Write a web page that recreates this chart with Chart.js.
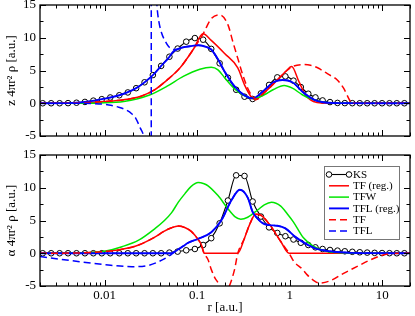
<!DOCTYPE html>
<html><head><meta charset="utf-8">
<script src="https://cdn.jsdelivr.net/npm/chart.js@4.4.1/dist/chart.umd.min.js"></script>
<style>
html,body{margin:0;padding:0;background:#fff;}
#wrap{position:relative;width:415px;height:316px;overflow:hidden;}
#c1{position:absolute;left:0;top:0;}
#c2{position:absolute;left:0;top:150px;}
</style></head><body>
<div id="wrap"><canvas id="c1" width="415" height="150"></canvas><canvas id="c2" width="415" height="166"></canvas></div>
<script>
// ---------- axis ticks ----------
const xTickValues = [0.01, 0.1, 1, 10];
const xTickLabels = ['0.01', '0.1', '1', '10'];
const yTickValues = [-5, 0, 5, 10, 15];
const yTickLabels = ['-5', '0', '5', '10', '15'];
const seriesNames = ['KS', 'TF (reg.)', 'TFW', 'TFL (reg.)', 'TF', 'TFL'];

// ---------- KS (markers) ----------
const ksR = [0.00214,0.00264,0.00326,0.00402,0.00496,0.00612,0.00755,0.00931,0.0115,0.0144,0.0178,0.0219,0.0270,0.0332,0.0408,0.0501,0.0615,0.0762,0.0945,0.116,0.142,0.175,0.215,0.264,0.325,0.398,0.489,0.599,0.735,0.899,1.10,1.32,1.59,1.90,2.27,2.73,3.29,3.95,4.76,5.73,6.89,8.29,9.98,12.0,14.4,17.4];
const ksTop = [0,0,0,0.02,0.08,0.2,0.4,0.62,0.88,1.22,1.65,2.3,3.2,4.3,5.7,7.1,8.35,9.4,9.95,9.7,8.3,6.1,3.9,2.06,1.0,0.65,1.5,2.8,3.95,4.1,3.45,2.47,1.45,0.89,0.43,0.18,0.05,0.02,0.01,0,0,0,0,0,0,0];
const ksBot = [0,0,0,0,0,0,0,0,0,0,0,0,0,0,0,0.1,0.25,0.45,0.65,1.26,2.3,4.57,8.05,11.9,11.8,7.9,5.6,3.95,3.1,2.6,2.1,1.6,1.26,0.9,0.65,0.5,0.4,0.3,0.22,0.15,0.1,0.06,0.03,0.01,0,0];

// ---------- top panel (z 4 pi r^2 rho) ----------
const tfRegTopR = [0.002,0.00415,0.00671,0.00983,0.0161,0.0243,0.0338,0.0469,0.0652,0.0906,0.116,0.142,0.198,0.275,0.325,0.382,0.429,0.510,0.652,0.906,1.05,1.26,1.48,1.68,1.98,2.54,20];
const tfRegTopV = [0,0.02,0.1,0.25,0.53,1.04,1.95,3.5,5.4,8.2,10.6,9.6,7.6,5.4,2.8,1.04,0.55,1.4,2.8,4.85,5.6,3.3,1.3,0.5,0.1,0,0];

const tfwTopR = [0.002,0.00524,0.00869,0.0161,0.0311,0.0469,0.0708,0.107,0.142,0.168,0.198,0.254,0.325,0.408,0.532,0.669,0.871,1.07,1.37,1.68,2.15,2.87,20];
const tfwTopV = [0,0.01,0.05,0.27,1.3,2.57,4.1,5.2,5.5,5.1,3.9,2.2,1.15,0.72,1.3,2.1,2.7,2.3,1.3,0.7,0.27,0.05,0];

const tflRegTopR = [0.002,0.00402,0.00612,0.00931,0.0144,0.0219,0.0332,0.0408,0.0489,0.0553,0.0626,0.0708,0.0835,0.1025,0.119,0.142,0.168,0.198,0.254,0.325,0.398,0.532,0.669,0.835,1.07,1.43,1.83,2.30,3.25,20];
const tflRegTopV = [0,0.02,0.2,0.62,1.22,2.3,4.3,5.7,6.9,7.9,8.3,8.55,8.7,8.85,8.7,8.2,6.7,4.85,2.57,1.2,0.75,2.0,3.2,3.55,3.2,1.55,0.55,0.15,0.02,0];

const tfTopR = [0.002,0.00415,0.00671,0.00983,0.0161,0.0243,0.0338,0.0469,0.0652,0.0906,0.116,0.142,0.175,0.215,0.243,0.275,0.311,0.352,0.398,0.440,0.510,0.652,0.906,1.07,1.37,1.68,2.08,2.34,2.87,3.25,3.83,4.33,4.70,20];
const tfTopV = [0,0.02,0.1,0.25,0.53,1.04,1.95,3.5,5.4,8.2,10.6,12.9,13.5,12.0,9.4,6.85,4.35,2.3,1.0,0.6,1.4,2.8,4.85,5.6,5.9,5.8,5.3,4.85,4.1,3.6,2.3,0.8,0,0];

const tflTopR = [0.002,0.00524,0.00869,0.0111,0.0142,0.0169,0.0196,0.0217,0.0243,0.0264,0.0284,0.0306,0.0318,0.0320,0.0338,0.0355,0.0368,0.0382,0.0411,0.0451,0.0489,0.0553,0.0626,0.0708,0.0835,0.1025,0.119,0.142,0.168,0.198,0.254,0.325,0.398,0.532,0.669,0.835,1.07,1.43,1.83,2.30,3.25,20];
const tflTopV = [0,0,-0.1,-0.25,-0.6,-1.0,-1.6,-2.3,-3.8,-5.0,-7.5,-15,-80,80,30,18.5,14.8,12.8,10.8,9.5,8.7,8.2,8.3,8.55,8.7,8.85,8.7,8.2,6.7,4.85,2.57,1.2,0.75,2.0,3.2,3.55,3.2,1.55,0.55,0.15,0.02,0];

// ---------- bottom panel (alpha 4 pi r^2 rho) ----------
const tfRegBotR = [0.002,0.00524,0.00869,0.0154,0.0233,0.0352,0.0432,0.0530,0.0626,0.0744,0.0869,0.1025,0.1112,0.1189,0.180,0.275,0.325,0.367,0.429,0.489,0.626,0.801,0.985,20];
const tfRegBotV = [0,0.05,0.2,0.6,1.26,2.5,3.3,3.9,4.15,3.9,3.3,2.1,1.26,0,0,0,2.3,4.3,5.95,5.8,4.1,1.8,0,0];

const tfwBotR = [0.002,0.00415,0.00671,0.01025,0.0154,0.0233,0.0352,0.0443,0.0530,0.0626,0.0738,0.0862,0.1025,0.1189,0.1312,0.168,0.215,0.2554,0.2962,0.352,0.4506,0.5316,0.6365,0.801,0.945,1.096,1.402,1.795,2.474,3.246,5.316,20];
const tfwBotV = [0,0.02,0.08,0.34,1.0,2.0,3.8,5.0,6.2,7.8,9.1,10.2,10.8,10.6,10.3,8.8,6.8,5.6,5.2,5.5,6.6,7.4,7.8,7.2,6.0,4.8,2.4,1.1,0.3,0.1,0.01,0];

const tflRegBotR = [0.002,0.0526,0.0567,0.0626,0.0708,0.0801,0.1025,0.1423,0.1821,0.2331,0.2890,0.3521,0.3983,0.4506,0.5097,0.6058,0.7383,0.8993,1.151,1.474,1.886,2.731,4.153,6.804,20];
const tflRegBotV = [0,0,0.2,0.6,1.1,1.6,2.2,3.2,5.0,8.0,9.7,8.5,6.3,5.3,4.6,4.3,4.2,3.8,2.5,1.5,0.75,0.3,0.1,0.02,0];

const tfBotR = [0.002,0.00524,0.00869,0.0154,0.0233,0.0352,0.0432,0.0530,0.0626,0.0744,0.0869,0.1025,0.1112,0.1189,0.1312,0.1423,0.1559,0.168,0.1764,0.1971,0.2203,0.2535,0.275,0.325,0.367,0.429,0.489,0.626,0.801,0.985,1.115,1.368,1.548,1.795,2.081,2.750,3.830,5.316,7.383,10.27,13.15,20];
const tfBotV = [0,0.05,0.2,0.6,1.26,2.5,3.3,3.9,4.15,3.9,3.3,2.1,1.26,0,-1.0,-2.5,-3.8,-4.5,-5.2,-6.5,-5.2,-2.5,0,2.3,4.3,5.95,5.8,4.1,1.8,0,-1.3,-2.4,-3.3,-4.1,-4.55,-4.2,-3.06,-2.05,-1.03,-0.27,-0.02,0];

const tflBotR = [0.002,0.0045,0.01025,0.01976,0.02984,0.04145,0.05303,0.0567,0.0626,0.0708,0.0801,0.1025,0.1423,0.1821,0.2331,0.2890,0.3521,0.3983,0.4506,0.5097,0.6058,0.7383,0.8993,1.151,1.474,1.886,2.731,4.153,6.804,20];
const tflBotV = [-0.5,-1.15,-1.75,-2.05,-1.85,-1.05,-0.15,0.2,0.6,1.1,1.6,2.2,3.2,5.0,8.0,9.7,8.5,6.3,5.3,4.6,4.3,4.2,3.8,2.5,1.5,0.75,0.3,0.1,0.02,0];

// ---------- styling ----------
const SERIF = "'Liberation Serif','Times New Roman',serif";
const RED = '#ff0000', GREEN = '#00e600', BLUE = '#0000ff';
const DASH = [7, 4];
const seriesStyles = [
  {color:'#000', width:1.1, dash:[], marker:true},
  {color:RED, width:1.5, dash:[]},
  {color:GREEN, width:1.5, dash:[]},
  {color:BLUE, width:1.9, dash:[]},
  {color:RED, width:1.5, dash:DASH},
  {color:BLUE, width:1.5, dash:DASH}
];

function pts(rs, vs){ return rs.map((r,i)=>({x:r, y:vs[i]})); }

function makeDatasets(list){
  return list.map((d,i)=>{
    const st = seriesStyles[i];
    return {
      label: seriesNames[i], data: d,
      borderColor: st.color, borderWidth: st.width, borderDash: st.dash,
      pointRadius: st.marker ? 2.8 : 0,
      pointBorderWidth: 1, pointBorderColor: '#000', pointBackgroundColor: '#fff',
      cubicInterpolationMode: 'monotone', fill: false,
      order: 6 - i
    };
  });
}

// frame + inward ticks on all four sides, from the chart's scales
const xMinorValues = [];
[0.001,0.01,0.1,1,10].forEach(d=>{ for(let k=2;k<=9;k++) xMinorValues.push(k*d); });
const yMinorValues = [-2.5, 2.5, 7.5, 12.5];
const framePlugin = {
  id:'frame',
  afterDatasetsDraw(chart){
    const {ctx, chartArea:a} = chart;
    const xs = chart.scales.x, ys = chart.scales.y;
    ctx.save();
    ctx.strokeStyle = '#000';
    ctx.lineWidth = 1;
    ctx.beginPath();
    const xt = (v,len)=>{ if(v < xs.min || v > xs.max) return; const p = Math.round(xs.getPixelForValue(v))+0.5;
      ctx.moveTo(p,a.bottom); ctx.lineTo(p,a.bottom-len); ctx.moveTo(p,a.top); ctx.lineTo(p,a.top+len); };
    const yt = (v,len)=>{ const p = Math.round(ys.getPixelForValue(v))+0.5;
      ctx.moveTo(a.left,p); ctx.lineTo(a.left+len,p); ctx.moveTo(a.right,p); ctx.lineTo(a.right-len,p); };
    xTickValues.forEach(v=>xt(v,6));
    xMinorValues.forEach(v=>xt(v,3.5));
    yTickValues.forEach(v=>yt(v,6));
    yMinorValues.forEach(v=>yt(v,3.5));
    ctx.stroke();
    ctx.lineWidth = 1.3;
    ctx.strokeRect(a.left, a.top, a.right-a.left, a.bottom-a.top);
    ctx.restore();
  }
};

const legendPlugin = {
  id:'boxLegend',
  afterDraw(chart){
    const ctx = chart.ctx;
    const bx = 324.5, by = 16.5, bw = 75, bh = 73;
    ctx.save();
    ctx.fillStyle = '#fff';
    ctx.fillRect(bx, by, bw, bh);
    ctx.strokeStyle = '#777'; ctx.lineWidth = 1;
    ctx.strokeRect(bx, by, bw, bh);
    ctx.font = '11px ' + SERIF;
    ctx.textBaseline = 'middle';
    chart.data.datasets.forEach((ds,i)=>{
      const y = 24.5 + i*11.3;
      const st = seriesStyles[i];
      ctx.strokeStyle = st.color; ctx.lineWidth = st.width; ctx.setLineDash(st.dash);
      ctx.beginPath(); ctx.moveTo(329, y); ctx.lineTo(349, y); ctx.stroke();
      ctx.setLineDash([]);
      if (st.marker){
        [329,349].forEach(cx=>{ ctx.beginPath(); ctx.arc(cx,y,2.8,0,Math.PI*2); ctx.fillStyle='#fff'; ctx.fill(); ctx.lineWidth=1; ctx.strokeStyle='#000'; ctx.stroke(); });
      }
      ctx.fillStyle = '#000';
      ctx.fillText(ds.label, 353, y+0.5);
    });
    ctx.restore();
  }
};

function makeOptions(isBottom, yTitle){
  return {
    responsive:false, animation:false, devicePixelRatio:1,
    layout:{padding:{top:5, right:2, left:0, bottom:0}},
    plugins:{legend:{display:false}, tooltip:{enabled:false}},
    scales:{
      x:{
        type:'logarithmic', min:0.002, max:20,
        afterBuildTicks:s=>{ s.ticks = xTickValues.map(v=>({value:v})); },
        afterFit:s=>{ s.height = isBottom ? 30 : 14; s.paddingLeft = 0; s.paddingRight = 0; },
        grid:{display:false, drawTicks:false}, border:{display:false},
        ticks:{display:isBottom, autoSkip:false, maxRotation:0, padding:2, color:'#000',
          font:{family:SERIF, size:13},
          callback:(v)=>{ const i = xTickValues.indexOf(v); return i>=0 ? xTickLabels[i] : ''; }},
        title:{display:isBottom, text:'r [a.u.]', color:'#000', font:{family:SERIF, size:13}, padding:{top:0, bottom:1}}
      },
      y:{
        min:-5, max:15,
        afterBuildTicks:s=>{ s.ticks = yTickValues.map(v=>({value:v})); },
        afterFit:s=>{ s.width = 40; s.paddingTop = 0; s.paddingBottom = 0; },
        grid:{display:false, drawTicks:false}, border:{display:false},
        ticks:{padding:4, color:'#000', font:{family:SERIF, size:13},
          callback:(v)=>{ const i = yTickValues.indexOf(v); return i>=0 ? yTickLabels[i] : ''; }},
        title:{display:true, text:yTitle, color:'#000', font:{family:SERIF, size:13}, padding:{top:4, bottom:0}}
      }
    }
  };
}

new Chart(document.getElementById('c1'), {
  type:'line',
  data:{datasets: makeDatasets([
    pts(ksR, ksTop), pts(tfRegTopR, tfRegTopV), pts(tfwTopR, tfwTopV),
    pts(tflRegTopR, tflRegTopV), pts(tfTopR, tfTopV), pts(tflTopR, tflTopV)
  ])},
  options: makeOptions(false, 'z 4πr² ρ [a.u.]'),
  plugins:[framePlugin]
});

new Chart(document.getElementById('c2'), {
  type:'line',
  data:{datasets: makeDatasets([
    pts(ksR, ksBot), pts(tfRegBotR, tfRegBotV), pts(tfwBotR, tfwBotV),
    pts(tflRegBotR, tflRegBotV), pts(tfBotR, tfBotV), pts(tflBotR, tflBotV)
  ])},
  options: makeOptions(true, 'α 4πr² ρ [a.u.]'),
  plugins:[framePlugin, legendPlugin]
});
</script></body></html>
